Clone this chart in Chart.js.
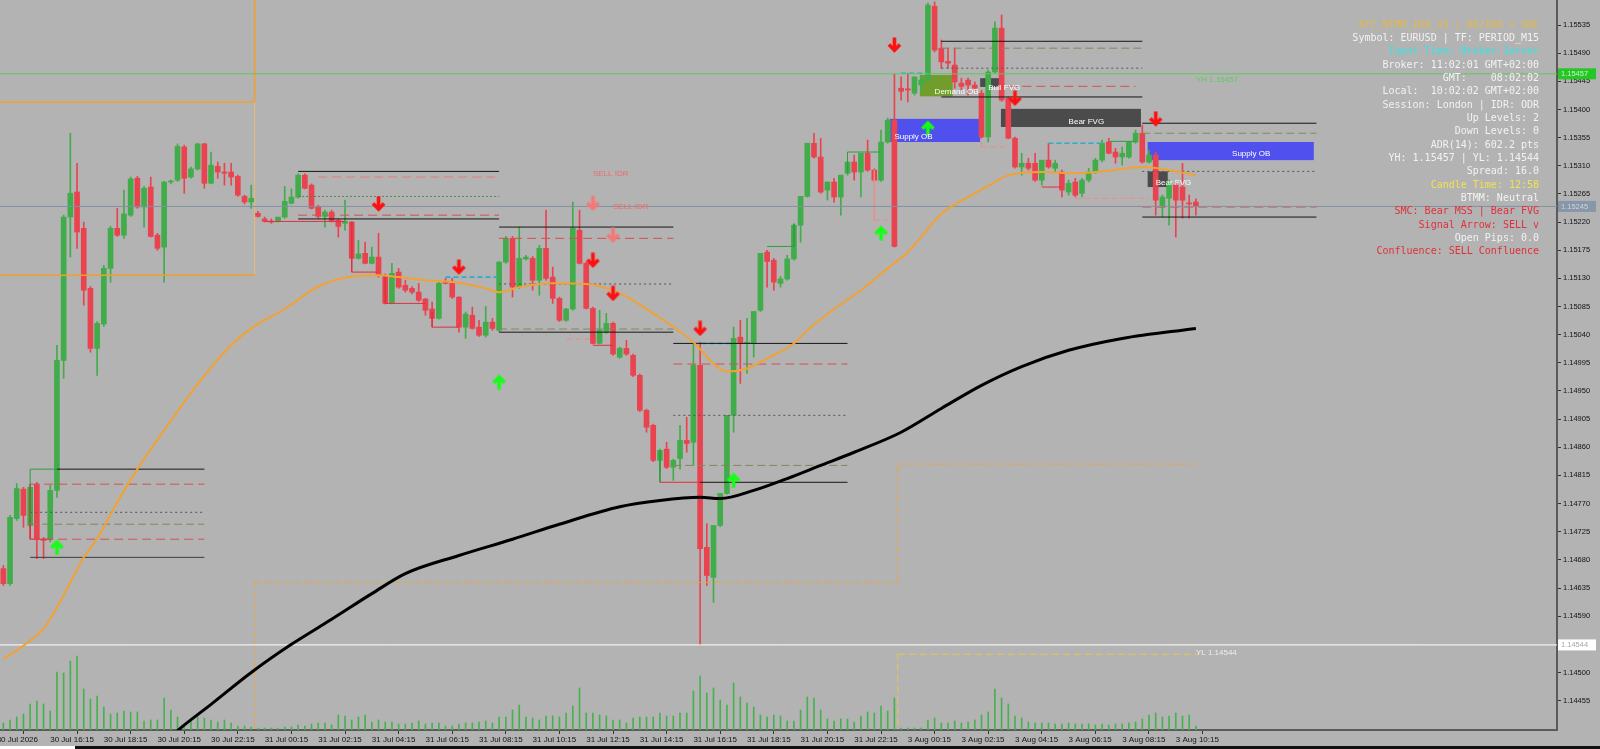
<!DOCTYPE html>
<html>
<head>
<meta charset="utf-8">
<script src="https://cdn.jsdelivr.net/npm/chart.js@4/dist/chart.umd.min.js"></script>
<style>
  html, body { margin: 0; padding: 0; background: #b3b3b3; overflow: hidden; }
  canvas { display: block; }
</style>
</head>
<body>
<canvas id="chart" width="1600" height="749"></canvas>
<script>
// EURUSD M15, bar 0 = 30 Jul 14:30 ... bar 178 = 3 Aug 11:00
const open = [1.14666,1.14642,1.14746,1.14793,1.14735,1.14801,1.14713,1.14713,1.14791,1.14999,
  1.15228,1.15268,1.15210,1.15114,1.15018,1.15057,1.15146,1.15210,1.15199,1.15231,
  1.15290,1.15244,1.15276,1.15199,1.15180,1.15284,1.15287,1.15340,1.15292,1.15305,
  1.15345,1.15282,1.15309,1.15300,1.15300,1.15293,1.15261,1.15252,1.15234,1.15225,
  1.15221,1.15221,1.15228,1.15250,1.15260,1.15295,1.15279,1.15245,1.15229,1.15236,
  1.15223,1.15218,1.15220,1.15162,1.15170,1.15154,1.15164,1.15135,1.15090,1.15140,
  1.15119,1.15114,1.15108,1.15097,1.15081,1.15066,1.15124,1.15122,1.15100,1.15052,
  1.15071,1.15052,1.15039,1.15060,1.15047,1.15156,1.15194,1.15116,1.15161,1.15162,
  1.15127,1.15178,1.15132,1.15098,1.15063,1.15081,1.15207,1.15154,1.15082,1.15026,
  1.15044,1.15058,1.15004,1.15018,1.15007,1.14975,1.14919,1.14895,1.14839,1.14857,
  1.14828,1.14842,1.14871,1.14868,1.14991,1.14700,1.14652,1.14735,1.14786,1.14911,
  1.15036,1.15026,1.15026,1.15079,1.15172,1.15159,1.15122,1.15129,1.15161,1.15215,
  1.15261,1.15346,1.15324,1.15271,1.15284,1.15260,1.15298,1.15316,1.15300,1.15330,
  1.15303,1.15287,1.15348,1.15383,1.15434,1.15433,1.15426,1.15439,1.15447,1.15565,
  1.15498,1.15477,1.15471,1.15442,1.15447,1.15439,1.15426,1.15356,1.15460,1.15530,
  1.15418,1.15354,1.15308,1.15314,1.15314,1.15287,1.15319,1.15306,1.15300,1.15268,
  1.15284,1.15266,1.15287,1.15300,1.15319,1.15348,1.15332,1.15324,1.15324,1.15348,
  1.15362,1.15316,1.15327,1.15244,1.15258,1.15279,1.15276,1.15250,1.15252];
const high = [1.14671,1.14751,1.14802,1.14796,1.14796,1.14804,1.14716,1.14799,1.15023,1.15231,
  1.15362,1.15314,1.15220,1.15117,1.15061,1.15151,1.15213,1.15242,1.15271,1.15292,
  1.15293,1.15277,1.15292,1.15202,1.15285,1.15287,1.15345,1.15343,1.15308,1.15346,
  1.15346,1.15332,1.15316,1.15314,1.15314,1.15295,1.15263,1.15279,1.15237,1.15228,
  1.15225,1.15225,1.15277,1.15273,1.15297,1.15297,1.15281,1.15247,1.15239,1.15239,
  1.15225,1.15255,1.15221,1.15191,1.15188,1.15180,1.15202,1.15137,1.15154,1.15146,
  1.15127,1.15117,1.15122,1.15098,1.15092,1.15124,1.15130,1.15130,1.15101,1.15076,
  1.15084,1.15063,1.15085,1.15066,1.15157,1.15197,1.15197,1.15212,1.15167,1.15165,
  1.15183,1.15239,1.15148,1.15100,1.15082,1.15252,1.15239,1.15156,1.15084,1.15079,
  1.15074,1.15060,1.15020,1.15031,1.15009,1.14977,1.14921,1.14897,1.14857,1.14868,
  1.14841,1.14895,1.14908,1.15028,1.15028,1.14738,1.14655,1.14786,1.14911,1.15052,
  1.15063,1.15066,1.15077,1.15170,1.15175,1.15162,1.15133,1.15167,1.15217,1.15261,
  1.15346,1.15362,1.15354,1.15284,1.15290,1.15295,1.15316,1.15327,1.15330,1.15351,
  1.15305,1.15367,1.15386,1.15457,1.15452,1.15458,1.15452,1.15455,1.15570,1.15572,
  1.15511,1.15498,1.15498,1.15450,1.15450,1.15444,1.15431,1.15463,1.15540,1.15551,
  1.15420,1.15356,1.15330,1.15322,1.15330,1.15303,1.15346,1.15319,1.15303,1.15287,
  1.15290,1.15290,1.15306,1.15322,1.15351,1.15354,1.15338,1.15340,1.15349,1.15367,
  1.15375,1.15335,1.15332,1.15263,1.15287,1.15284,1.15314,1.15263,1.15257];
const low = [1.14639,1.14639,1.14743,1.14732,1.14732,1.14682,1.14682,1.14709,1.14780,1.14970,
  1.15164,1.15178,1.15087,1.15012,1.14975,1.15053,1.15124,1.15197,1.15194,1.15229,
  1.15242,1.15212,1.15196,1.15175,1.15124,1.15281,1.15285,1.15266,1.15290,1.15303,
  1.15274,1.15281,1.15290,1.15279,1.15279,1.15261,1.15249,1.15242,1.15228,1.15220,
  1.15218,1.15220,1.15226,1.15249,1.15258,1.15273,1.15241,1.15226,1.15212,1.15220,
  1.15196,1.15207,1.15161,1.15161,1.15153,1.15153,1.15132,1.15089,1.15089,1.15114,
  1.15108,1.15105,1.15093,1.15071,1.15065,1.15065,1.15121,1.15098,1.15044,1.15034,
  1.15049,1.15037,1.15036,1.15047,1.15045,1.15154,1.15100,1.15114,1.15159,1.15111,
  1.15103,1.15127,1.15090,1.15061,1.15061,1.15079,1.15153,1.15081,1.15025,1.15025,
  1.15042,1.15007,1.15002,1.15007,1.14973,1.14917,1.14884,1.14837,1.14820,1.14826,
  1.14807,1.14825,1.14852,1.14831,1.14544,1.14639,1.14612,1.14733,1.14785,1.14884,
  1.14962,1.14978,1.15004,1.15077,1.15116,1.15111,1.15116,1.15127,1.15159,1.15188,
  1.15260,1.15322,1.15266,1.15255,1.15252,1.15231,1.15295,1.15287,1.15260,1.15301,
  1.15285,1.15285,1.15346,1.15180,1.15415,1.15412,1.15423,1.15428,1.15444,1.15492,
  1.15466,1.15466,1.15434,1.15431,1.15423,1.15428,1.15354,1.15348,1.15458,1.15413,
  1.15353,1.15306,1.15295,1.15303,1.15285,1.15279,1.15306,1.15300,1.15260,1.15263,
  1.15260,1.15260,1.15284,1.15298,1.15316,1.15329,1.15314,1.15311,1.15322,1.15346,
  1.15314,1.15314,1.15231,1.15228,1.15215,1.15196,1.15226,1.15226,1.15231];
const close = [1.14642,1.14748,1.14794,1.14751,1.14796,1.14713,1.14711,1.14791,1.14999,1.15228,
  1.15266,1.15204,1.15111,1.15018,1.15058,1.15146,1.15210,1.15199,1.15233,1.15289,
  1.15244,1.15274,1.15197,1.15178,1.15284,1.15285,1.15341,1.15290,1.15305,1.15345,
  1.15282,1.15311,1.15300,1.15298,1.15292,1.15263,1.15252,1.15258,1.15229,1.15221,
  1.15220,1.15228,1.15253,1.15260,1.15295,1.15274,1.15242,1.15229,1.15236,1.15221,
  1.15213,1.15221,1.15162,1.15169,1.15154,1.15164,1.15135,1.15090,1.15138,1.15116,
  1.15111,1.15108,1.15095,1.15079,1.15066,1.15122,1.15122,1.15100,1.15052,1.15073,
  1.15050,1.15039,1.15060,1.15050,1.15156,1.15194,1.15116,1.15162,1.15164,1.15127,
  1.15178,1.15130,1.15098,1.15063,1.15081,1.15210,1.15154,1.15082,1.15026,1.15047,
  1.15058,1.15009,1.15018,1.15009,1.14975,1.14919,1.14892,1.14839,1.14855,1.14828,
  1.14839,1.14871,1.14866,1.14991,1.14698,1.14655,1.14735,1.14786,1.14911,1.15034,
  1.15026,1.15028,1.15077,1.15170,1.15157,1.15124,1.15129,1.15161,1.15215,1.15261,
  1.15346,1.15324,1.15268,1.15284,1.15260,1.15295,1.15316,1.15300,1.15330,1.15303,
  1.15287,1.15348,1.15383,1.15181,1.15429,1.15431,1.15452,1.15447,1.15567,1.15495,
  1.15476,1.15474,1.15444,1.15437,1.15439,1.15434,1.15356,1.15460,1.15530,1.15415,
  1.15354,1.15308,1.15314,1.15306,1.15287,1.15319,1.15308,1.15314,1.15271,1.15282,
  1.15263,1.15287,1.15300,1.15319,1.15346,1.15330,1.15324,1.15330,1.15348,1.15362,
  1.15316,1.15327,1.15255,1.15260,1.15282,1.15255,1.15255,1.15249,1.15245];
const tickVolume = [7,10,13,16,26,29,26,19,58,57, 69,74,41,31,34,23,16,17,19,18,
  18,9,10,10,32,20,13,6,9,13, 12,10,8,10,7,4,4,3,2,2, 2,2,3,3,5,4,6,7,7,5,
  15,14,10,13,15,8,10,8,8,6, 6,7,9,6,7,7,4,4,6,7, 7,8,9,7,13,13,20,25,13,12,
  10,14,14,13,17,24,42,17,17,15, 14,10,10,7,12,13,13,13,17,14, 14,17,17,39,54,37,42,30,25,47,
  33,27,23,15,13,15,14,9,9,20, 33,32,20,11,9,11,11,8,14,18, 17,24,19,32,2,2,2,2,10,12,
  7,7,9,7,8,10,15,18,41,32, 26,14,12,8,7,7,7,6,6,7, 6,6,6,5,6,5,6,6,7,8, 11,15,17,13,14,17,14,15,4];

// moving averages, read at sample bars
const orangeIdx = [0,2,4,6,8,10,12,14,17,20,24,29,34,37,42,47,52,56,59,63,67,72,74,77,82,87,92,97,
  103,106,108,111,114,118,120,124,128,132,135,140,145,148,150,155,160,165,170,178];
const orangeVal = [1.14522,1.14535,1.14551,1.14570,1.14604,1.14644,1.14684,1.14714,1.14772,1.14825,
  1.14887,1.14961,1.15023,1.15050,1.15081,1.15117,1.15133,1.15135,1.15132,1.15127,1.15124,1.15114,
  1.15108,1.15116,1.15122,1.15121,1.15106,1.15074,1.15028,1.14994,1.14981,1.14986,1.15002,1.15026,
  1.15047,1.15081,1.15111,1.15146,1.15172,1.15233,1.15266,1.15284,1.15295,1.15300,1.15298,1.15302,
  1.15308,1.15295];
const blackIdx = [20,26,31,37,43,49,55,60,68,76,83,92,98,104,107,112,117,122,127,134,140,146,152,159,167,178];
const blackVal = [1.14346,1.14407,1.14449,1.14500,1.14545,1.14585,1.14626,1.14658,1.14687,1.14713,
  1.14737,1.14765,1.14775,1.14780,1.14778,1.14791,1.14810,1.14831,1.14852,1.14884,1.14922,1.14959,
  1.14989,1.15015,1.15034,1.15050];

// signal arrows
const sellIdx = [56,68,88,91,104,133,151,172];
const sellPrice = [1.15249,1.15148,1.15159,1.15106,1.15050,1.15503,1.15418,1.15385];
const idrSellIdx = [88,91];
const idrSellPrice = [1.15250,1.15199];
const buyIdx = [8,74,109,131,138];
const buyPrice = [1.14700,1.14964,1.14807,1.15202,1.15370];

// axis ticks
const priceTicks = [1.14455,1.14500,1.14590,1.14635,1.14680,1.14725,1.14770,1.14815,1.14860,1.14905,
  1.14950,1.14995,1.15040,1.15085,1.15130,1.15175,1.15220,1.15265,1.15310,1.15355,1.15400,1.15445,
  1.15490,1.15535,1.15580];
const timeTickIdx = [-1,7,15,23,31,39,47,55,63,71,79,87,95,103,111,119,127,135,143,151,159,167,175];
const timeTickText = ['30 Jul 2026','30 Jul 16:15','30 Jul 18:15','30 Jul 20:15','30 Jul 22:15',
  '31 Jul 00:15','31 Jul 02:15','31 Jul 04:15','31 Jul 06:15','31 Jul 08:15','31 Jul 10:15',
  '31 Jul 12:15','31 Jul 14:15','31 Jul 16:15','31 Jul 18:15','31 Jul 20:15','31 Jul 22:15',
  '3 Aug 00:15','3 Aug 02:15','3 Aug 04:15','3 Aug 06:15','3 Aug 08:15','3 Aug 10:15'];

const X_MIN = -0.5, X_MAX = 231.9;
const Y_MIN = 1.14408, Y_MAX = 1.15575;
const YH = 1.15457, YL = 1.14544, BID = 1.15245;

// level segments: [bar0, price0, bar1, price1, kind]
const levels = [
  [X_MIN, YH, X_MAX, YH, 'yh'], [X_MIN, YL, X_MAX, YL, 'yl'], [X_MIN, BID, X_MAX, BID, 'bid'],
  [-0.5,1.15412,37.5,1.15412,'orange'], [37.5,1.15412,37.5,1.15600,'orange'],
  [-0.5,1.15135,37.5,1.15135,'orange'], [37.5,1.15135,37.5,1.15412,'orangefaint'],
  [37.5,1.14380,37.5,1.14644,'orangedash'], [37.5,1.14644,133.5,1.14644,'orangedash'],
  [133.5,1.14644,133.5,1.14833,'orangedash'], [133.5,1.14833,178.5,1.14833,'orangedash'],
  [133.5,1.14380,133.5,1.14529,'yellowdash'], [133.5,1.14529,178.5,1.14529,'yellowdash'],

  [8,1.14825,30,1.14825,'black'], [4,1.14825,8,1.14825,'green'], [4,1.14737,4,1.14825,'green'],
  [4,1.14801,30,1.14801,'reddash'], [4,1.14756,30,1.14756,'greydot'], [4,1.14737,30,1.14737,'olivedash'],
  [4,1.14713,30,1.14713,'reddash'], [4,1.14684,30,1.14684,'dark'], [4,1.14713,7,1.14713,'red'],
  [4,1.14801,4,1.14713,'red'],

  [44,1.15301,74,1.15301,'black'], [47,1.15292,74,1.15292,'lightreddash'], [44,1.15261,74,1.15261,'greendot'],
  [44,1.15231,74,1.15231,'reddash'], [44,1.15225,74,1.15225,'black'], [39,1.15221,51,1.15221,'red'],
  [52,1.15220,52,1.15140,'red'], [52,1.15140,56,1.15140,'red'], [57,1.15135,57,1.15090,'red'],
  [57,1.15090,63,1.15090,'red'], [64,1.15076,64,1.15052,'red'], [64,1.15052,68,1.15052,'red'],
  [66,1.15132,74,1.15132,'cyandash'],
  [74,1.15212,100,1.15212,'black'], [74,1.15194,100,1.15194,'reddash'], [74,1.15121,100,1.15121,'greydot'],
  [74,1.15049,100,1.15049,'olivedash'], [74,1.15044,100,1.15044,'black'],
  [84,1.15033,88,1.15033,'salmondash'], [88,1.15023,91,1.15023,'red'],

  [100,1.15026,126,1.15026,'black'], [103,1.15026,109,1.15026,'cyandash'], [100,1.14993,126,1.14993,'reddash'],
  [100,1.14911,126,1.14911,'greydot'], [100,1.14831,126,1.14831,'olivedash'], [104,1.14804,126,1.14804,'black'],
  [98,1.14804,104,1.14804,'red'], [98,1.14855,98,1.14804,'green'],
  [114,1.15181,118,1.15181,'green'], [118,1.15217,118,1.15181,'green'],
  [126,1.15332,131,1.15332,'green'], [126,1.15298,126,1.15332,'green'],
  [130,1.15303,130,1.15223,'salmon'], [130,1.15223,132,1.15223,'salmondash'],

  [140,1.15509,170,1.15509,'black'], [140,1.15498,170,1.15498,'olivedash'], [140,1.15466,170,1.15466,'greydot'],
  [150,1.15437,169,1.15437,'reddash'], [140,1.15420,170,1.15420,'black'], [134,1.15458,138,1.15458,'cyandash'],
  [146,1.15348,146,1.15340,'salmon'], [146,1.15340,150,1.15340,'salmondash'],
  [156,1.15346,164,1.15346,'cyandash'], [165,1.15349,169,1.15349,'green'],
  [160,1.15258,171,1.15258,'salmondash'], [155,1.15276,158,1.15276,'red'],
  [170,1.15378,196,1.15378,'black'], [170,1.15362,196,1.15362,'olivedash'], [170,1.15301,196,1.15301,'greydot'],
  [170,1.15244,196,1.15244,'reddash'], [170,1.15228,196,1.15228,'black']
];

// zones: [bar0, bar1, priceTop, priceBottom, kind]
const zones = [
  [132.3,145.8,1.15385,1.15348,'supply'], [136.8,141.7,1.15455,1.15421,'demand'],
  [145.8,148.8,1.15450,1.15436,'fvg'], [148.9,169.8,1.15401,1.15372,'fvg'],
  [170.8,195.6,1.15348,1.15319,'supply'], [170.8,173.8,1.15301,1.15276,'fvg']
];
const notes = [
  [133,1.15357,'Supply OB','box'], [139,1.15429,'Demand OB','box'], [147,1.15434,'Bull FVG','box'],
  [159,1.15380,'Bear FVG','box'], [183.4,1.15329,'Supply OB','box'], [172,1.15282,'Bear FVG','box'],
  [88,1.15297,'SELL IDR','idr'], [91,1.15244,'SELL IDR','idr'],
  [178,1.15447,'YH 1.15457','yh'], [178,1.14532,'YL 1.14544','yl']
];

const infoText = ['ATC_BTMM_IDR_V3 | DR/IDR + SMC','Symbol: EURUSD | TF: PERIOD_M15','Input Time: Broker Server',
  'Broker: 11:02:01 GMT+02:00','GMT:    08:02:02','Local:  10:02:02 GMT+02:00','Session: London | IDR: ODR',
  'Up Levels: 2','Down Levels: 0','ADR(14): 602.2 pts','YH: 1.15457 | YL: 1.14544','Spread: 16.0',
  'Candle Time: 12:58','BTMM: Neutral','SMC: Bear MSS | Bear FVG','Signal Arrow: SELL v','Open Pips: 0.0',
  'Confluence: SELL Confluence'];
const infoTone = ['title','plain','cyan','plain','plain','plain','plain','plain','plain','plain','plain','plain',
  'yellow','plain','alert','alert','plain','alert'];

// ---- styles ----
const BULL = '#41ad4a', BEAR = '#ea4350';
const levelStyle = {
  yh: ['#5cc85c', []], yl: ['#ffffff', []], bid: ['#8391a1', []],
  orange: ['#f0a02c', []], orangefaint: ['#e9b872', []], orangedash: ['#eaa440', [6,4]], yellowdash: ['#e6c650', [7,4]],
  black: ['#161616', []], dark: ['#3c3c3c', []], reddash: ['#d45050', [9,5]], lightreddash: ['#e47c7c', [9,5]],
  greydot: ['#555555', [2,3]], olivedash: ['#85855e', [8,4]], greendot: ['#4b8a3e', [2,2]],
  green: ['#2f9e3f', []], red: ['#e0303e', []], salmon: ['#f08a8a', []], salmondash: ['#f08a8a', [6,3]],
  cyandash: ['#2aaed0', [5,3]]
};
const zoneColor = { supply: '#5050ee', demand: '#729c2c', fvg: '#4b4b4b' };
const noteColor = { box: '#ffffff', idr: '#f06a6a', yh: '#5ccc5c', yl: '#eeeeee' };
const toneColor = { title: '#e0b850', plain: '#f2f2f2', cyan: '#3fe0e0', yellow: '#f0e250', alert: '#e2303a' };

function makeArrow(color, up) {
  const c = document.createElement('canvas');
  c.width = 15; c.height = 16;
  const g = c.getContext('2d');
  g.translate(7.5, 8);
  if (up) g.scale(1, -1);
  g.strokeStyle = color; g.lineWidth = 3.6; g.lineJoin = 'miter';
  g.beginPath(); g.moveTo(0, -7.5); g.lineTo(0, 5); g.stroke();
  g.beginPath(); g.moveTo(-5.5, -0.5); g.lineTo(0, 5.2); g.lineTo(5.5, -0.5); g.stroke();
  return c;
}

const segDatasets = levels.map(([i0, p0, i1, p1, kind]) => ({
  type: 'line', data: [{x: i0, y: p0}, {x: i1, y: p1}],
  borderColor: levelStyle[kind][0], borderDash: levelStyle[kind][1],
  borderWidth: kind === 'orange' || kind === 'cyandash' ? 1.6 : 1,
  pointRadius: 0, tension: 0, fill: false, order: 10
}));

const isBull = i => close[i] >= open[i];

const overlay = {
  id: 'overlay',
  beforeDraw(chart) {
    const g = chart.ctx;
    g.save(); g.fillStyle = '#b3b3b3'; g.fillRect(0, 0, chart.width, chart.height); g.restore();
  },
  beforeDatasetsDraw(chart) {
    const {ctx: g, chartArea: a, scales: {x, y}} = chart;
    g.save();
    g.beginPath(); g.rect(a.left, a.top, a.right - a.left, a.bottom - a.top); g.clip();
    zones.forEach(([i0, i1, pt, pb, kind]) => {
      const x0 = x.getPixelForValue(i0), x1 = x.getPixelForValue(i1);
      const y0 = y.getPixelForValue(pt), y1 = y.getPixelForValue(pb);
      g.fillStyle = zoneColor[kind];
      g.fillRect(x0, y0, x1 - x0, y1 - y0);
    });
    g.restore();
  },
  afterDatasetsDraw(chart) {
    const {ctx: g, scales: {x, y}} = chart;
    g.save();
    g.font = '8px "Liberation Sans", Arial, sans-serif';
    g.textBaseline = 'middle'; g.textAlign = 'left';
    notes.forEach(([i, p, text, kind]) => {
      g.fillStyle = noteColor[kind];
      g.fillText(text, x.getPixelForValue(i), y.getPixelForValue(p));
    });
    g.restore();
  },
  afterDraw(chart) {
    const {ctx: g, scales: {y}} = chart;
    g.save();
    // info panel
    g.font = '10px "DejaVu Sans Mono", monospace';
    g.textAlign = 'right'; g.textBaseline = 'middle';
    infoText.forEach((t, k) => {
      g.fillStyle = toneColor[infoTone[k]];
      g.fillText(t, 1539, 25 + k * 13.33);
    });
    // price tags on the axis
    const tag = (p, bg, fg) => {
      const py = y.getPixelForValue(p);
      g.fillStyle = bg; g.fillRect(1558, py - 5.5, 38, 11);
      g.fillStyle = fg; g.font = '7.5px "Liberation Sans", Arial, sans-serif';
      g.textAlign = 'left'; g.fillText(p.toFixed(5), 1561, py + 0.5);
    };
    tag(YH, '#27c627', '#c4f6c4');
    tag(BID, '#8796a8', '#cdd6df');
    tag(YL, '#ffffff', '#a8a8a8');
    // window bottom edge
    g.fillStyle = '#ffffff'; g.fillRect(0, 746, 75, 3);
    g.fillStyle = '#111111'; g.fillRect(75, 746, 1525, 3);
    g.restore();
  }
};

new Chart(document.getElementById('chart'), {
  type: 'line',
  data: {
    datasets: [
      { type: 'scatter', data: sellIdx.map((v, k) => ({x: v, y: sellPrice[k]})), pointStyle: makeArrow('#ff1010', false), order: 1 },
      { type: 'scatter', data: idrSellIdx.map((v, k) => ({x: v, y: idrSellPrice[k]})), pointStyle: makeArrow('#f47878', false), order: 1 },
      { type: 'scatter', data: buyIdx.map((v, k) => ({x: v, y: buyPrice[k]})), pointStyle: makeArrow('#14ff14', true), order: 1 },
      { type: 'line', data: orangeIdx.map((v, k) => ({x: v, y: orangeVal[k]})), borderColor: '#f2a232', borderWidth: 2,
        pointRadius: 0, cubicInterpolationMode: 'monotone', order: 5 },
      { type: 'line', data: blackIdx.map((v, k) => ({x: v, y: blackVal[k]})), borderColor: '#000000', borderWidth: 3,
        pointRadius: 0, cubicInterpolationMode: 'monotone', order: 5 },
      ...segDatasets,
      { type: 'bar', data: open.map((o, i) => ({x: i, y: [o, close[i]]})), grouped: false, barThickness: 5, minBarLength: 1,
        backgroundColor: c => isBull(c.dataIndex) ? BULL : BEAR, borderWidth: 0, order: 20 },
      { type: 'bar', data: low.map((l, i) => ({x: i, y: [l, high[i]]})), grouped: false, barThickness: 1,
        backgroundColor: c => isBull(c.dataIndex) ? BULL : BEAR, borderWidth: 0, order: 21 },
      { type: 'bar', yAxisID: 'yv', data: tickVolume.map((v, i) => ({x: i, y: v})), grouped: false, barThickness: 1,
        backgroundColor: '#46b24e', borderWidth: 0, order: 60 }
    ]
  },
  options: {
    responsive: false, animation: false, devicePixelRatio: 1, events: [],
    layout: { padding: 0, autoPadding: false },
    plugins: { legend: { display: false }, tooltip: { enabled: false } },
    scales: {
      x: {
        type: 'linear', min: X_MIN, max: X_MAX, offset: false, bounds: 'data',
        afterBuildTicks: s => { s.ticks = timeTickIdx.map(v => ({value: v})); },
        afterFit: s => { s.height = 19; s.paddingLeft = 0; s.paddingRight = 0; },
        ticks: { autoSkip: false, maxRotation: 0, align: 'start', padding: 1, color: '#111',
          font: { family: 'Liberation Sans', size: 8 }, callback: (v, i) => timeTickText[i] },
        grid: { drawOnChartArea: false, drawTicks: true, tickLength: 4, color: '#333' },
        border: { display: true, color: '#5a5a5a', width: 2 }
      },
      y: {
        type: 'linear', position: 'right', min: Y_MIN, max: Y_MAX, bounds: 'data',
        afterBuildTicks: s => { s.ticks = priceTicks.map(v => ({value: v})); },
        afterFit: s => { s.width = 43; s.paddingTop = 0; s.paddingBottom = 0; },
        ticks: { autoSkip: false, padding: 2, color: '#111', font: { family: 'Liberation Sans', size: 7.5 },
          callback: v => v.toFixed(5) },
        grid: { drawOnChartArea: false, drawTicks: true, tickLength: 4, color: '#333' },
        border: { display: true, color: '#5a5a5a', width: 2 }
      },
      yv: { display: false, min: 0, max: 730 }
    }
  },
  plugins: [overlay]
});
</script>
</body>
</html>
